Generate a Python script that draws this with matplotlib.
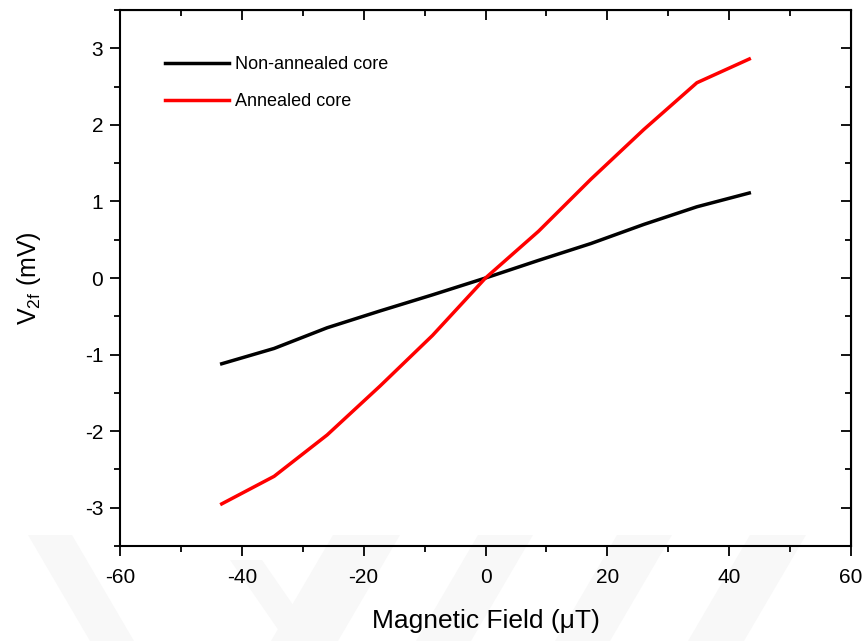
import matplotlib
matplotlib.use("Agg")
import matplotlib.pyplot as plt
from matplotlib.patches import Polygon
from matplotlib.ticker import MultipleLocator

plt.rcParams['font.family'] = ['Liberation Sans', 'DejaVu Sans']
plt.rcParams['axes.unicode_minus'] = False
plt.rcParams['mathtext.default'] = 'regular'

field = [-43.3, -34.7, -26.0, -17.3, -8.7, 0.0, 8.7, 17.3, 26.0, 34.7, 43.3]
non_annealed = [-1.12, -0.92, -0.65, -0.43, -0.22, 0.0, 0.23, 0.45, 0.70, 0.93, 1.11]
annealed = [-2.95, -2.59, -2.05, -1.41, -0.75, 0.0, 0.61, 1.29, 1.94, 2.55, 2.86]

W, H = 868, 641
fig = plt.figure(figsize=(W / 100, H / 100), dpi=100)

# faint watermark bands (pixel coords, y measured from top)
bands = [
    [(28, 535), (72, 535), (134, 641), (90, 641)],
    [(333, 535), (400, 535), (338, 641), (271, 641)],
    [(478, 535), (533, 535), (471, 641), (416, 641)],
    [(617, 535), (672, 535), (610, 641), (555, 641)],
    [(750, 535), (806, 535), (744, 641), (688, 641)],
    [(230, 560), (262, 560), (318, 641), (286, 641)],
]
for b in bands:
    pts = [(x / W, 1 - y / H) for x, y in b]
    fig.patches.append(Polygon(pts, closed=True, transform=fig.transFigure,
                               facecolor='#f8f8f8', edgecolor='none', zorder=-10))

ax = fig.add_axes([120 / W, 1 - 546 / H, (851 - 120) / W, (546 - 10) / H])
ax.set_facecolor('none')

ax.plot(field, non_annealed, color='black', lw=2.5, label='Non-annealed core')
ax.plot(field, annealed, color='red', lw=2.5, label='Annealed core')

ax.set_xlim(-60, 60)
ax.set_ylim(-3.5, 3.5)
ax.xaxis.set_major_locator(MultipleLocator(20))
ax.xaxis.set_minor_locator(MultipleLocator(10))
ax.yaxis.set_major_locator(MultipleLocator(1))
ax.yaxis.set_minor_locator(MultipleLocator(0.5))

ax.tick_params(which='both', direction='out', bottom=True, left=True,
               top=False, right=False, labelsize=15, width=1.3)
ax.tick_params(which='major', length=7, pad=5)
ax.tick_params(axis='x', which='major', pad=9)
ax.tick_params(which='minor', length=4)
for s in ax.spines.values():
    s.set_linewidth(1.5)

# inward ticks on top and right
axt = ax.secondary_xaxis('top')
axt.xaxis.set_major_locator(MultipleLocator(20))
axt.xaxis.set_minor_locator(MultipleLocator(10))
axt.tick_params(which='both', direction='in', labeltop=False, width=1.3)
axt.tick_params(which='major', length=7)
axt.tick_params(which='minor', length=4)
axr = ax.secondary_yaxis('right')
axr.yaxis.set_major_locator(MultipleLocator(1))
axr.yaxis.set_minor_locator(MultipleLocator(0.5))
axr.tick_params(which='both', direction='in', labelright=False, width=1.3)
axr.tick_params(which='major', length=7)
axr.tick_params(which='minor', length=4)

ax.set_xlabel('Magnetic Field (\u03bcT)', fontsize=19, labelpad=16)
ax.set_ylabel(r'V$_{2f}$ (mV)', fontsize=18, labelpad=30)

leg = ax.legend(loc='upper left', bbox_to_anchor=(0.04, 0.944), frameon=False,
                fontsize=13, handlelength=3.5, handletextpad=0.33, labelspacing=1.1)

fig.savefig('out.png', dpi=100)
